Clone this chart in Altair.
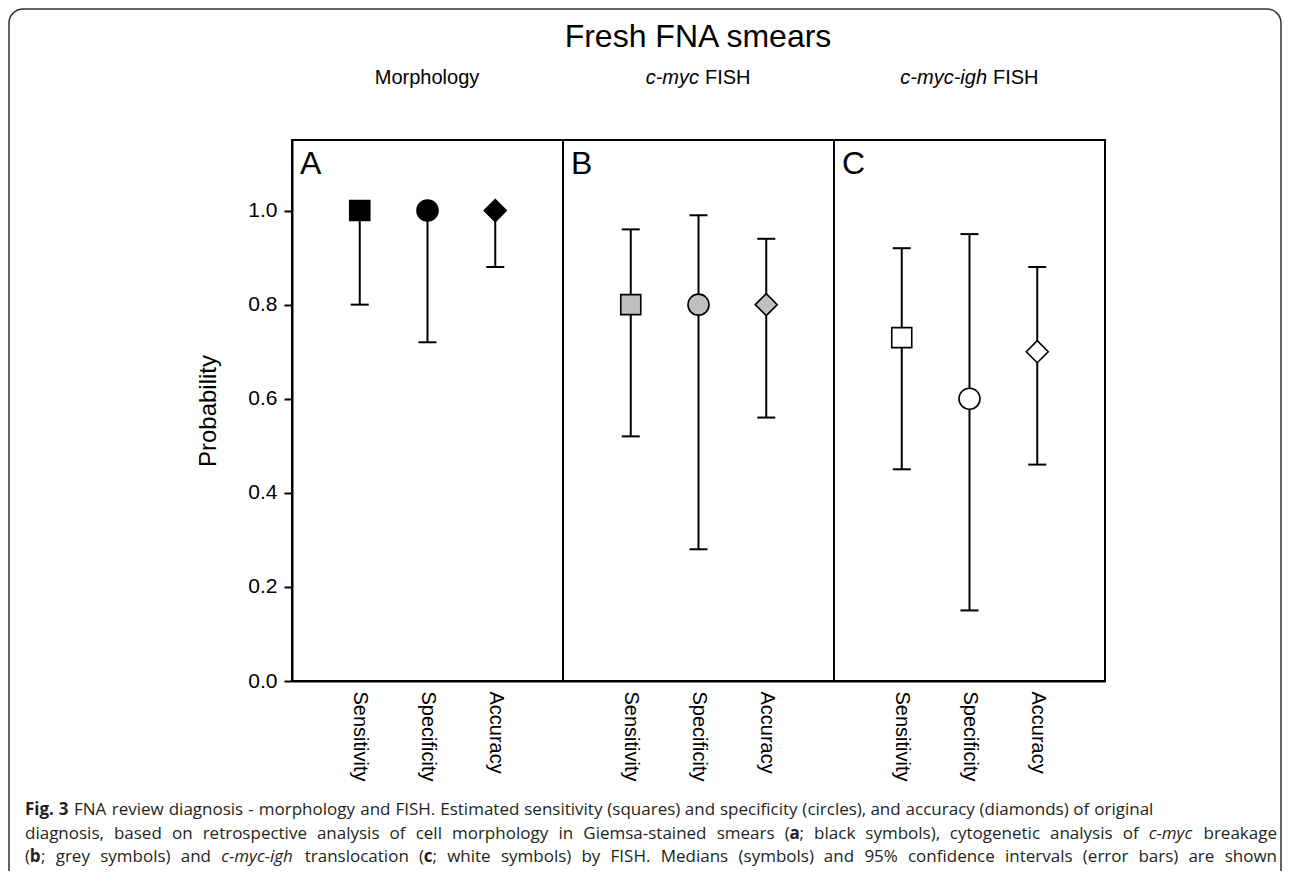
import json
import re
import altair as alt
import pandas as pd

# ---------------- data ----------------
panels = ["A", "B", "C"]
panel_italic = ["", "c-myc", "c-myc-igh"]
panel_plain = ["Morphology", "FISH", "FISH"]
metrics = ["Sensitivity", "Specificity", "Accuracy"]
shapes = ["square", "circle", "diamond"]
shape_sizes = [400, 484, 676]
panel_fills = ["#000000", "#c0c0c0", "#ffffff"]

median_A = [1.00, 1.00, 1.00]
lower_A = [0.80, 0.72, 0.88]
upper_A = [1.00, 1.00, 1.00]

median_B = [0.80, 0.80, 0.80]
lower_B = [0.52, 0.28, 0.56]
upper_B = [0.96, 0.99, 0.94]

median_C = [0.73, 0.60, 0.70]
lower_C = [0.45, 0.15, 0.46]
upper_C = [0.92, 0.95, 0.88]

y_ticks = [0.0, 0.2, 0.4, 0.6, 0.8, 1.0]

title_text = "Fresh FNA smears"
y_title = "Probability"
# caption (**bold**, *italic*)
caption_lines = [
    "**Fig.** **3** FNA review diagnosis - morphology and FISH. Estimated sensitivity (squares) and specificity (circles), and accuracy (diamonds) of original",
    "diagnosis, based on retrospective analysis of cell morphology in Giemsa-stained smears (**a**; black symbols), cytogenetic analysis of *c-myc* breakage",
    "(**b**; grey symbols) and *c-myc-igh* translocation (**c**; white symbols) by FISH. Medians (symbols) and 95% confidence intervals (error bars) are shown",
]
caption_justified = [False, True, True]

# ---------------- tables ----------------
meds = [median_A, median_B, median_C]
lows = [lower_A, lower_B, lower_C]
ups = [upper_A, upper_B, upper_C]
rows = []
for pi, p in enumerate(panels):
    for mi, m in enumerate(metrics):
        rows.append({
            "panel": p,
            "metric": m,
            "pos": 4 * pi + mi + 1,
            "median": meds[pi][mi],
            "lower": lows[pi][mi],
            "upper": ups[pi][mi],
        })
df = pd.DataFrame(rows)
letters_df = pd.DataFrame({"panel": panels, "lpos": [4 * i for i in range(len(panels))]})
div_df = pd.DataFrame({"b": [4 * i for i in range(1, len(panels))]})
one = pd.DataFrame({"k": [0]})

W, H = 813, 541
OX, OY = 292, 140  # screen position of plot origin

FONT = "Liberation Sans"
label_expr = f"{json.dumps(metrics)}[(datum.value % 4) - 1]"
tick_vals = [4 * pi + mi + 1 for pi in range(len(panels)) for mi in range(len(metrics))]

x_scale = alt.Scale(domain=[0, 12], nice=False, zero=False)
x_axis = alt.Axis(values=tick_vals, labelExpr=label_expr, labelAngle=90,
                  labelAlign="left", labelBaseline="middle",
                  labelFontSize=20, labelFont=FONT, labelPadding=10,
                  labelColor="black", ticks=False, domainColor="black",
                  domainWidth=2, grid=False, title=None)
y_scale = alt.Scale(domain=[0, 1.15], nice=False, zero=True)
y_axis = alt.Axis(values=y_ticks, format=".1f", tickSize=8, tickWidth=2,
                  tickColor="black", domainColor="black", domainWidth=2,
                  labelFontSize=21, labelFont=FONT, labelPadding=7,
                  labelColor="black", grid=False, title=y_title,
                  titleFontSize=24, titleFont=FONT, titleFontWeight="normal",
                  titleColor="black", titlePadding=27)


def X(field):
    return alt.X(f"{field}:Q", scale=x_scale, axis=x_axis, title=None)


def Y(field):
    return alt.Y(f"{field}:Q", scale=y_scale, axis=y_axis, title=y_title)


base = alt.Chart(df)

bars = base.mark_rule(color="black", strokeWidth=2).encode(
    x=X("pos"), y=Y("lower"), y2="upper:Q")
cap_lo = base.mark_rule(color="black", strokeWidth=2, xOffset=-9, x2Offset=9).encode(
    x=X("pos"), x2="pos:Q", y=Y("lower"))
cap_hi = base.mark_rule(color="black", strokeWidth=2, xOffset=-9, x2Offset=9).encode(
    x=X("pos"), x2="pos:Q", y=Y("upper"))
points = base.mark_point(filled=True, stroke="black", strokeWidth=1.6, opacity=1).encode(
    x=X("pos"), y=Y("median"),
    shape=alt.Shape("metric:N", scale=alt.Scale(domain=metrics, range=shapes), legend=None),
    size=alt.Size("metric:N", scale=alt.Scale(domain=metrics, range=shape_sizes), legend=None),
    fill=alt.Fill("panel:N", scale=alt.Scale(domain=panels, range=panel_fills), legend=None),
)
dividers = alt.Chart(div_df).mark_rule(color="black", strokeWidth=2).encode(x=X("b"))
letters = alt.Chart(letters_df).mark_text(
    align="left", baseline="alphabetic", dx=8, fontSize=32, font=FONT, color="black"
).encode(x=X("lpos"), y=alt.value(174 - OY), text="panel:N")


def txt(sx, sy, s, size, font=FONT, align="center", baseline="middle", **kw):
    return alt.Chart(one).mark_text(
        align=align, baseline=baseline, fontSize=size, font=font, color="black", **kw
    ).encode(x=alt.value(sx - OX), y=alt.value(sy - OY), text=alt.value(s))


texts = [
    txt(698, 37, title_text, 32),
    txt(427, 78, panel_plain[0], 20),
    txt(699, 78, panel_italic[1], 20, align="right", fontStyle="italic"),
    txt(705, 78, panel_plain[1], 20, align="left"),
    txt(987, 78, panel_italic[2], 20, align="right", fontStyle="italic"),
    txt(993, 78, panel_plain[2], 20, align="left"),
]

border = alt.Chart(one).mark_rect(
    fillOpacity=0, stroke="#333333", strokeWidth=1.5, cornerRadius=14
).encode(x=alt.value(9 - OX), x2=alt.value(1281 - OX),
         y=alt.value(9 - OY), y2=alt.value(900 - OY))

main = alt.layer(border, dividers, bars, cap_lo, cap_hi, points, letters, *texts)

# ---------------- caption layout (approximate Open Sans advances, em) ----------------
CAPF = "Open Sans"
CAPS = 17
cap_col = "#231f20"
ADV = {" ": 0.26, "a": 0.556, "b": 0.613, "c": 0.476, "d": 0.613, "e": 0.561, "f": 0.339,
       "g": 0.548, "h": 0.614, "i": 0.253, "j": 0.253, "k": 0.525, "l": 0.253, "m": 0.93,
       "n": 0.614, "o": 0.604, "p": 0.613, "q": 0.613, "r": 0.408, "s": 0.477, "t": 0.353,
       "u": 0.614, "v": 0.501, "w": 0.778, "x": 0.524, "y": 0.501, "z": 0.468,
       "A": 0.633, "B": 0.648, "C": 0.631, "D": 0.729, "E": 0.556, "F": 0.516, "G": 0.728,
       "H": 0.738, "I": 0.279, "M": 0.903, "N": 0.778, "S": 0.549, "O": 0.779,
       "(": 0.281, ")": 0.281, ",": 0.245, ".": 0.266, ";": 0.266, "-": 0.322, "%": 0.817}
STYLE_K = {"regular": 1.0, "bold": 1.07, "italic": 0.97}


def tw(s, style):
    return sum(ADV.get(ch, 0.572) for ch in s) * CAPS * STYLE_K[style]


def parse_word(word):
    pieces = []
    for part in re.split(r"(\*\*.+?\*\*|\*.+?\*)", word):
        if not part:
            continue
        if part.startswith("**"):
            pieces.append((part[2:-2], "bold"))
        elif part.startswith("*"):
            pieces.append((part[1:-1], "italic"))
        else:
            pieces.append((part, "regular"))
    return pieces


cap_x0, cap_x1 = 25, 1277
cap_ys = [810, 834, 857]
cap_rows = []
for line, just, yy in zip(caption_lines, caption_justified, cap_ys):
    words = [parse_word(w) for w in line.split(" ")]
    widths = [sum(tw(t, s) for t, s in w) for w in words]
    if just:
        gap = (cap_x1 - cap_x0 - sum(widths)) / (len(words) - 1)
    else:
        gap = tw(" ", "regular") + 0.5
    x = cap_x0
    for wi, (w, wd) in enumerate(zip(words, widths)):
        last = just and wi == len(words) - 1 and len(w) == 1
        if last:
            t, s = w[0]
            cap_rows.append({"x": cap_x1 - OX, "y": yy - OY, "t": t, "style": s, "ra": True})
            continue
        px = x
        for t, s in w:
            cap_rows.append({"x": px - OX, "y": yy - OY, "t": t, "style": s, "ra": False})
            px += tw(t, s)
        x += wd + gap
cap_df = pd.DataFrame(cap_rows)


def cap_layer(style, right=False, **kw):
    return alt.Chart(cap_df).transform_filter(
        (alt.datum.style == style) & (alt.datum.ra == right)
    ).mark_text(align="right" if right else "left", baseline="middle", fontSize=CAPS,
                font=CAPF, color=cap_col, **kw).encode(
        x=alt.X("x:Q", scale=None, axis=None),
        y=alt.Y("y:Q", scale=None, axis=None),
        text="t:N",
    )


caption = alt.layer(
    cap_layer("regular"),
    cap_layer("regular", right=True),
    cap_layer("bold", fontWeight="bold"),
    cap_layer("italic", fontStyle="italic"),
)

chart = alt.layer(main, caption).resolve_scale(
    x="independent", y="independent"
).properties(
    width=W, height=H,
    padding={"left": OX - 8, "top": OY - 8, "right": 177, "bottom": 190},
    autosize=alt.AutoSizeParams(type="none"),
    background="white",
).configure_view(stroke="black", strokeWidth=2)

chart.save("out.html", embed_options={"renderer": "svg", "actions": False})
